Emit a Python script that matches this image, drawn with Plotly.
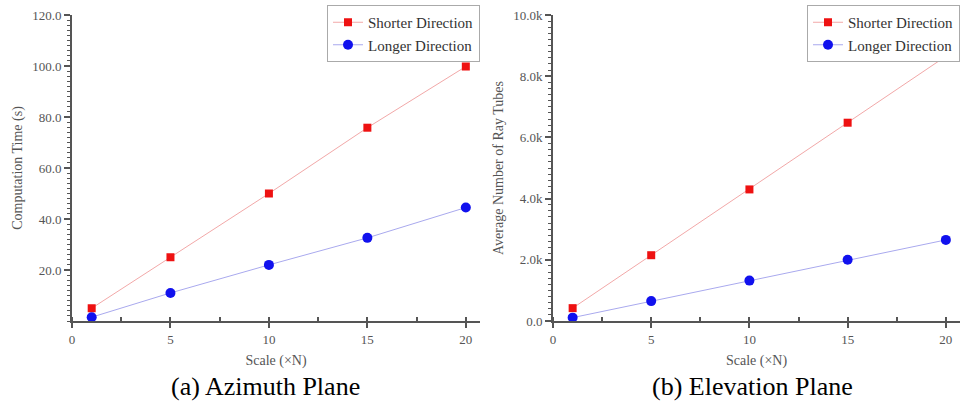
import plotly.graph_objects as go

scale = [1, 5, 10, 15, 20]
az_shorter = [5.0, 25.0, 50.0, 75.8, 99.8]
az_longer = [1.5, 11.0, 22.0, 32.6, 44.5]
el_shorter = [420, 2150, 4300, 6480, 8650]
el_longer = [110, 650, 1320, 2000, 2650]

az_tickvals = [20, 40, 60, 80, 100, 120]
az_ticktext = ["20.0", "40.0", "60.0", "80.0", "100.0", "120.0"]
el_tickvals = [0, 2000, 4000, 6000, 8000, 10000]
el_ticktext = ["0.0", "2.0k", "4.0k", "6.0k", "8.0k", "10.0k"]
x_tickvals = [0, 5, 10, 15, 20]

FONT = "'Liberation Serif', 'Times New Roman', Times, 'DejaVu Serif', serif"
RED_LINE = "#f2a8a8"
BLUE_LINE = "#a9a9ee"
AXC = "#555555"
TXT = "#555555"

fig = go.Figure()

def add_pair(xa, ya, short, long_, legend):
    fig.add_trace(go.Scatter(x=scale, y=short, mode="lines+markers", name="Shorter Direction",
                             line=dict(color=RED_LINE, width=1),
                             marker=dict(symbol="square", size=8, color="#ee1111"),
                             xaxis=xa, yaxis=ya, legend=legend))
    fig.add_trace(go.Scatter(x=scale, y=long_, mode="lines+markers", name="Longer Direction",
                             line=dict(color=BLUE_LINE, width=1),
                             marker=dict(symbol="circle", size=10, color="#1111ee"),
                             xaxis=xa, yaxis=ya, legend=legend))

add_pair("x", "y", az_shorter, az_longer, "legend")
add_pair("x2", "y2", el_shorter, el_longer, "legend2")

def xaxis_cfg(domain, anchor):
    return dict(domain=domain, anchor=anchor, range=[0, 20.72], showgrid=False, zeroline=False,
                automargin=False,
                showline=True, linecolor=AXC, linewidth=2, ticks="outside", ticklen=5, tickwidth=1.5,
                tickcolor=AXC, tickvals=x_tickvals,
                minor=dict(dtick=2.5, tick0=0, ticks="inside", ticklen=4, tickcolor=AXC, tickwidth=1.5),
                tickfont=dict(family=FONT, size=13, color=TXT),
                title=dict(text="Scale (×N)", font=dict(family=FONT, size=14, color=TXT), standoff=10))

def yaxis_cfg(domain, anchor, rng, tv, tt, minor_dt, title):
    return dict(domain=domain, anchor=anchor, range=rng, showgrid=False, zeroline=False,
                automargin=False,
                showline=True, linecolor=AXC, linewidth=2, ticks="outside", ticklen=6, tickwidth=1.5,
                tickcolor=AXC, tickvals=tv, ticktext=tt,
                minor=dict(dtick=minor_dt, tick0=0, ticks="outside", ticklen=3, tickcolor=AXC, tickwidth=1),
                tickfont=dict(family=FONT, size=13, color=TXT),
                title=dict(text=title, font=dict(family=FONT, size=14, color=TXT), standoff=6))

ydom = [1 - 321 / 414, 1 - 15 / 414]
legend_common = dict(y=1 - 5 / 414, yanchor="top", xanchor="right",
                     bordercolor="#aaaaaa", borderwidth=1, bgcolor="white",
                     font=dict(family=FONT, size=15, color="#333333"), tracegroupgap=0,
                     itemwidth=30)
fig.update_layout(
    width=970, height=414, margin=dict(l=0, r=0, t=0, b=0, autoexpand=False),
    paper_bgcolor="white", plot_bgcolor="white",
    font=dict(family=FONT),
    xaxis=xaxis_cfg([72 / 970, 480 / 970], "y"),
    yaxis=yaxis_cfg(ydom, "x", [0, 120], az_tickvals, az_ticktext, 2, "Computation Time (s)"),
    xaxis2=xaxis_cfg([553 / 970, 960 / 970], "y2"),
    yaxis2=yaxis_cfg(ydom, "x2", [0, 10000], el_tickvals, el_ticktext, 200, "Average Number of Ray Tubes"),
    legend=dict(x=480 / 970, **legend_common),
    legend2=dict(x=960 / 970, **legend_common),
    showlegend=True,
    annotations=[
        dict(text="(a) Azimuth Plane", x=265 / 970, y=1 - 386 / 414, xref="paper", yref="paper",
             showarrow=False, xanchor="center", yanchor="middle",
             font=dict(family=FONT, size=26, color="black")),
        dict(text="(b) Elevation Plane", x=752 / 970, y=1 - 386 / 414, xref="paper", yref="paper",
             showarrow=False, xanchor="center", yanchor="middle",
             font=dict(family=FONT, size=26, color="black")),
    ],
)

fig.write_html("out.html", config={"displayModeBar": False},
               post_script="document.body.style.margin='0px';")
